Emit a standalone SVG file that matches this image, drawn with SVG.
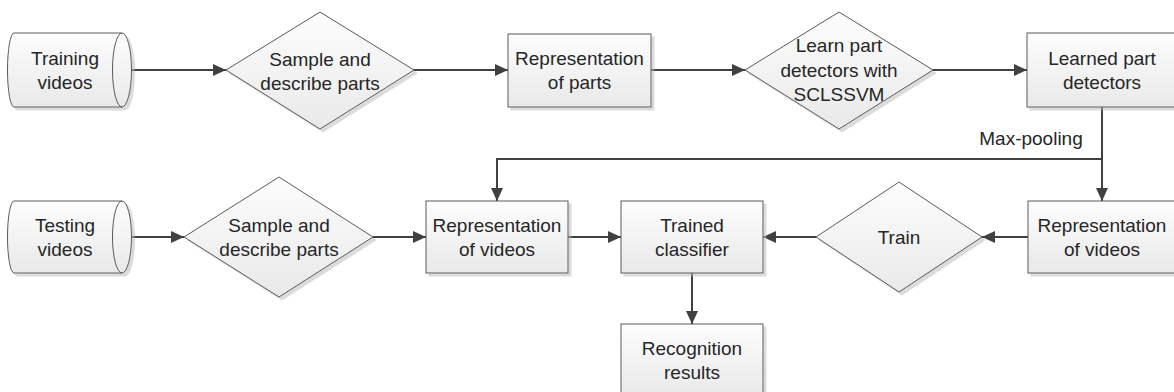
<svg xmlns="http://www.w3.org/2000/svg" width="1174" height="392" viewBox="0 0 1174 392">
  <style>
    .shape { fill: url(#fillGrad); stroke: #5a5a5a; stroke-width: 1; filter: url(#shadow); }
    .inner { fill: none; stroke: #5a5a5a; stroke-width: 1; }
    .label { font-family: "Liberation Sans", Arial, sans-serif; font-size: 19px; fill: #262626; text-anchor: middle; }
    .edge { fill: none; stroke: #404040; stroke-width: 2; marker-end: url(#arrow); }
  </style>
  <defs>
    <linearGradient id="fillGrad" x1="0" y1="0" x2="0" y2="1">
      <stop offset="0" stop-color="#fdfdfd"/>
      <stop offset="1" stop-color="#e9e9e9"/>
    </linearGradient>
    <filter id="shadow" x="-10%" y="-10%" width="125%" height="130%">
      <feDropShadow dx="3" dy="3" stdDeviation="0.7" flood-color="#b8b8b8" flood-opacity="0.5"/>
    </filter>
    <marker id="arrow" markerUnits="userSpaceOnUse" markerWidth="14" markerHeight="12" refX="13" refY="6" orient="auto">
      <path d="M0,0 L13,6 L0,12 Z" fill="#404040"/>
    </marker>
  </defs>

  <rect width="1174" height="392" fill="#ffffff"/>

  <!-- connectors -->
  <g id="connectors">
    <line class="edge" x1="122" y1="70" x2="226" y2="70"/>
    <line class="edge" x1="414" y1="70" x2="508" y2="70"/>
    <line class="edge" x1="651" y1="70" x2="745" y2="70"/>
    <line class="edge" x1="933" y1="70" x2="1027" y2="70"/>
    <line class="edge" x1="1102" y1="107" x2="1102" y2="201"/>
    <path class="edge" d="M1102,159 L497,159 L497,201"/>
    <text class="label" x="1031" y="145">Max-pooling</text>
    <line class="edge" x1="122" y1="237" x2="184" y2="237"/>
    <line class="edge" x1="373" y1="237" x2="426" y2="237"/>
    <line class="edge" x1="568" y1="237" x2="621" y2="237"/>
    <line class="edge" x1="816" y1="237" x2="763" y2="237"/>
    <line class="edge" x1="1028" y1="237" x2="982" y2="237"/>
    <line class="edge" x1="692" y1="273" x2="692" y2="324"/>
  </g>

  <!-- row 1 -->
  <g id="training-videos">
    <path class="shape" d="M122,33 L14,33 A6.5,37 0 0 0 14,107 L122,107 A9.5,37 0 0 0 122,33 Z"/>
    <path class="inner" d="M122,33 A9.5,37 0 0 0 122,107"/>
    <text class="label" x="65" y="65">Training</text>
    <text class="label" x="65" y="89">videos</text>
  </g>

  <g id="sample-describe-1">
    <polygon class="shape" points="226,70 320,12 414,70 320,129"/>
    <text class="label" x="320" y="66">Sample and</text>
    <text class="label" x="320" y="90">describe parts</text>
  </g>

  <g id="representation-parts">
    <rect class="shape" x="508" y="34" width="143" height="73"/>
    <text class="label" x="579.5" y="65">Representation</text>
    <text class="label" x="579.5" y="89">of parts</text>
  </g>

  <g id="learn-detectors">
    <polygon class="shape" points="745,70 839,12 933,70 839,129"/>
    <text class="label" x="839" y="52">Learn part</text>
    <text class="label" x="839" y="77">detectors with</text>
    <text class="label" x="839" y="101">SCLSSVM</text>
  </g>

  <g id="learned-detectors">
    <rect class="shape" x="1027" y="33" width="150" height="74"/>
    <text class="label" x="1102" y="65">Learned part</text>
    <text class="label" x="1102" y="89">detectors</text>
  </g>

  <!-- row 2 -->
  <g id="testing-videos">
    <path class="shape" d="M122,201 L14,201 A6.5,36 0 0 0 14,273 L122,273 A9.5,36 0 0 0 122,201 Z"/>
    <path class="inner" d="M122,201 A9.5,36 0 0 0 122,273"/>
    <text class="label" x="65" y="232">Testing</text>
    <text class="label" x="65" y="256">videos</text>
  </g>

  <g id="sample-describe-2">
    <polygon class="shape" points="184,237 279,177 373,237 279,297"/>
    <text class="label" x="279" y="232">Sample and</text>
    <text class="label" x="279" y="256">describe parts</text>
  </g>

  <g id="representation-videos-test">
    <rect class="shape" x="426" y="201" width="142" height="72"/>
    <text class="label" x="497" y="232">Representation</text>
    <text class="label" x="497" y="256">of videos</text>
  </g>

  <g id="trained-classifier">
    <rect class="shape" x="621" y="201" width="142" height="72"/>
    <text class="label" x="692" y="232">Trained</text>
    <text class="label" x="692" y="256">classifier</text>
  </g>

  <g id="train">
    <polygon class="shape" points="816,237 899,182 982,237 899,292"/>
    <text class="label" x="899" y="243.5">Train</text>
  </g>

  <g id="representation-videos-train">
    <rect class="shape" x="1028" y="201" width="149" height="72"/>
    <text class="label" x="1102" y="232">Representation</text>
    <text class="label" x="1102" y="256">of videos</text>
  </g>

  <g id="recognition-results">
    <rect class="shape" x="621" y="324" width="142" height="72"/>
    <text class="label" x="692" y="355">Recognition</text>
    <text class="label" x="692" y="379">results</text>
  </g>
</svg>
